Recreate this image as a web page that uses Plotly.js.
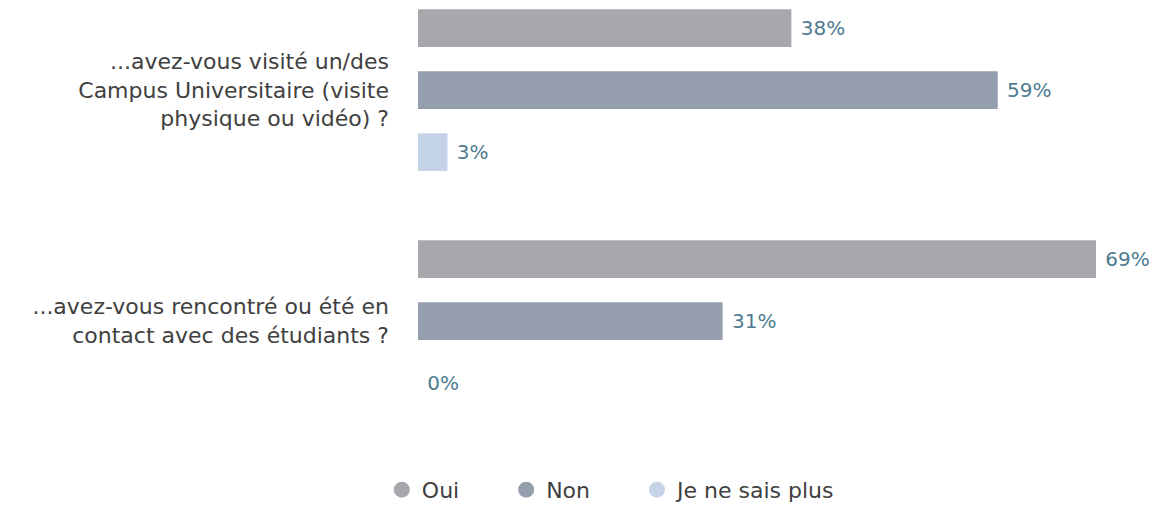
<!DOCTYPE html>
<html><head><meta charset="utf-8">
<script src="https://cdn.plot.ly/plotly-3.0.1.min.js"></script>
<style>html,body{margin:0;padding:0;background:#fff}</style>
</head><body>
<div id="chart" style="width:1160px;height:505px"></div>
<script>
const categories = ["...avez-vous visité un/des<br>Campus Universitaire (visite<br>physique ou vidéo) ?", "...avez-vous rencontré ou été en<br>contact avec des étudiants ?"];
const seriesNames = ["Oui", "Non", "Je ne sais plus"];
const oui = [38, 69];
const non = [59, 31];
const jnsp = [3, 0];
const colors = ["#a7a8ab", "#949eac", "#c5d3e6"];
const values = [oui, non, jnsp];

const font = "DejaVu Sans, sans-serif";
const pad = "\u00a0\u00a0\u00a0\u00a0\u00a0\u00a0";
const traces = [];
values.forEach((v, i) => {
  traces.push({
    type: "bar", orientation: "h", name: seriesNames[i],
    x: v, y: categories,
    marker: {color: colors[i], line: {width: 0}},
    text: v.map(d => "\u00a0" + d + "%"), textposition: "outside", cliponaxis: false,
    textfont: {color: "#4e7b8f", size: 20, family: font},
    showlegend: false, hoverinfo: "skip"
  });
});
values.forEach((v, i) => {
  traces.push({
    type: "scatter", mode: "markers",
    name: seriesNames[i] + (i < values.length - 1 ? pad : ""),
    x: [null], y: [null],
    marker: {color: colors[i], size: 16, symbol: "circle"},
    showlegend: true, hoverinfo: "skip"
  });
});

const layout = {
  width: 1160, height: 505,
  margin: {l: 418, r: 10, t: 0, b: 65},
  paper_bgcolor: "#fff", plot_bgcolor: "#fff",
  barmode: "group", bargap: 0.195, bargroupgap: 0.39,
  font: {family: font, color: "#404040", size: 19},
  xaxis: {range: [0, 74.5], showgrid: false, zeroline: false, showticklabels: false, showline: false},
  yaxis: {type: "category", range: [1.515, -0.39], showgrid: false, zeroline: false, showline: false,
          ticks: "", ticklabelstandoff: 28, tickfont: {size: 22, color: "#404040", family: font}},
  legend: {orientation: "h", xref: "container", yref: "container", x: 0.527, y: 0.03,
           xanchor: "center", yanchor: "middle", font: {size: 22, color: "#404040", family: font},
           itemsizing: "trace", traceorder: "normal"},
  showlegend: true
};
Plotly.newPlot("chart", traces, layout, {displayModeBar: false, staticPlot: true});
</script>
</body></html>
